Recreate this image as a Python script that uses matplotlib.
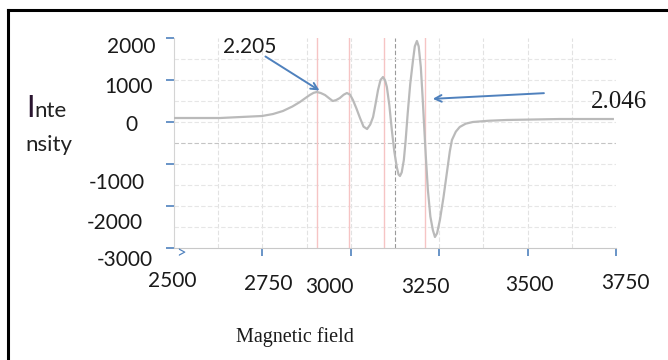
import matplotlib.pyplot as plt
from matplotlib.lines import Line2D

# EPR spectrum
field = [2500, 2630, 2749, 2780, 2808, 2835, 2856, 2870, 2884, 2895, 2904, 2915,
         2927, 2938, 2949, 2958, 2969, 2980, 2989, 2998, 3006, 3016, 3026, 3036,
         3046, 3055, 3063, 3070, 3077, 3084, 3091, 3097, 3102, 3109, 3116, 3123,
         3130, 3135, 3139, 3144, 3150, 3155, 3161, 3168, 3176, 3181, 3187, 3192,
         3198, 3203, 3207, 3212, 3218, 3225, 3232, 3238, 3244, 3252, 3262, 3272,
         3280, 3286, 3297, 3308, 3325, 3345, 3390, 3441, 3591, 3741]
intensity = [95, 95, 143, 190, 262, 370, 476, 560, 643, 695, 714, 690,
             643, 570, 500, 520, 571, 650, 690, 650, 524, 320, 95, -110,
             -167, -60, 119, 430, 762, 1000, 1071, 990, 833, 400, -190, -700,
             -1071, -1250, -1286, -1200, -905, -450, 214, 900, 1476, 1800, 1929, 1800,
             1310, 600, -24, -800, -1619, -2250, -2571, -2738, -2650, -2333, -1800, -1190,
             -700, -429, -230, -119, -40, 0, 30, 48, 71, 71]

red_lines = [2904, 2995, 3094, 3210]
x_ticks = [2500, 2750, 3000, 3250, 3500, 3750]
x_labels = ["2500", "2750", "3000", "3250", "3500", "3750"]
y_ticks = [2000, 1000, 0, -1000, -2000, -3000]
y_labels = ["2000", "1000", "0", "-1000", "-2000", "-3000"]

blue = '#4f81bd'

fig = plt.figure(figsize=(6.68, 3.6), dpi=100)
ax = fig.add_axes([174 / 668, 1 - 248 / 360, 442 / 668, 210 / 360])
ax.set_xlim(2500, 3750)
ax.set_ylim(-3000, 2000)

# light dashed grid
for gx in range(2625, 3750, 125):
    c = '#9a9a9a' if gx == 3125 else '#e2e2e2'
    ax.axvline(gx, color=c, lw=0.8, ls=(0, (4, 2)), zorder=1)
for gy in range(-2500, 2000, 500):
    c = '#c4c4c4' if gy == -500 else '#e6e6e6'
    ax.axhline(gy, color=c, lw=0.8, ls=(0, (4, 2)), zorder=1)

for rx in red_lines:
    ax.axvline(rx, color='#f6c4c4', lw=1.0, zorder=2)

ax.plot(field, intensity, color='#bababa', lw=1.6, zorder=3)

for s in ['top', 'right']:
    ax.spines[s].set_visible(False)
ax.spines['left'].set_color('#d4d4d4')
ax.spines['bottom'].set_color('#c8c8c8')

ax.set_xticks(x_ticks[1:])
ax.set_yticks(y_ticks)
ax.tick_params(axis='both', colors=blue, length=6, width=1.2,
               labelbottom=False, labelleft=False)

# tick labels were pasted by hand, so each sits a bit off its tick
x_off = [(-2, -33), (6, -36), (-21, -39), (-14, -39), (2, -37), (9, -35)]
for v, lab, (dx, dy) in zip(x_ticks, x_labels, x_off):
    ax.annotate(lab, xy=(v, 0), xycoords=('data', 'axes fraction'),
                xytext=(dx, dy), textcoords='offset pixels',
                ha='center', va='center', fontsize=15, family='Lato', color='#1a1a1a')

y_off = [(-19, -9), (-21, -7), (-36, -3), (-29, -19), (-31, -17), (-21, -12)]
for v, lab, (dx, dy) in zip(y_ticks, y_labels, y_off):
    ax.annotate(lab, xy=(0, v), xycoords=('axes fraction', 'data'),
                xytext=(dx, dy), textcoords='offset pixels',
                ha='right', va='center', fontsize=15, family='Lato', color='#1a1a1a')

# g-value arrows
ax.annotate('', xy=(2918, 714), xytext=(2752, 1595),
            arrowprops=dict(arrowstyle='->', color=blue, lw=1.4, mutation_scale=12))
ax.annotate('', xy=(3224, 548), xytext=(3554, 690),
            arrowprops=dict(arrowstyle='->', color=blue, lw=1.4, mutation_scale=12))

fig.text(250 / 668, 1 - 47 / 360, '2.205', ha='center', va='center',
         fontsize=15, family='Lato', color='#1a1a1a')
fig.text(619 / 668, 1 - 102 / 360, '2.046', ha='center', va='center',
         fontsize=18, family='Liberation Serif', color='#1a1a1a')
fig.text(295 / 668, 1 - 337 / 360, 'Magnetic field', ha='center', va='center',
         fontsize=14.5, family='Liberation Serif', color='#1a1a1a')

# broken "Intensity" label
fig.text(26 / 668, 1 - 117 / 360, 'I', ha='left', va='baseline',
         fontsize=22, family='Lato', color='#2a1530')
fig.text(34 / 668, 1 - 117 / 360, 'nte', ha='left', va='baseline',
         fontsize=16, family='Lato', color='#222222')
fig.text(25 / 668, 1 - 151 / 360, 'nsity', ha='left', va='baseline',
         fontsize=16, family='Lato', color='#222222')

fig.text(181 / 668, 1 - 253 / 360, '>', ha='center', va='center',
         fontsize=12, family='Lato', color=blue)

# outer frame (only top and left edges show)
fig.add_artist(Line2D([8 / 668, 1], [1 - 10 / 360, 1 - 10 / 360], color='black', lw=2.2))
fig.add_artist(Line2D([8 / 668, 8 / 668], [0, 1 - 10 / 360], color='black', lw=2.2))

fig.savefig('out.png', dpi=100)
